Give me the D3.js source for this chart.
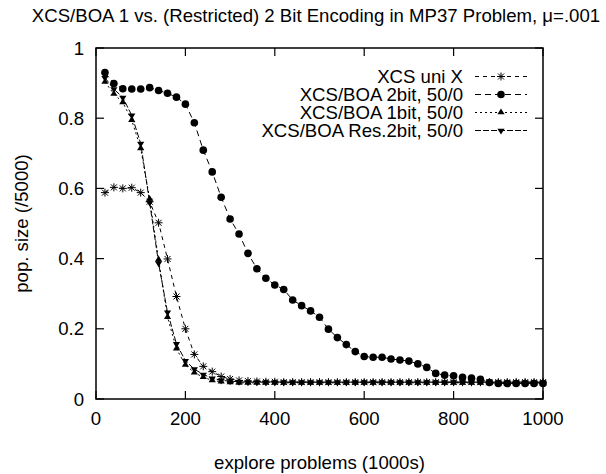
<!DOCTYPE html>
<html>

<head>
    <meta charset="UTF-8">
    <title>XCS/BOA 1 vs. (Restricted) 2 Bit Encoding in MP37 Problem</title>
    <style>
        body { margin: 0; background: #fff; }
        svg text { font-family: "Liberation Sans", Arial, sans-serif; font-size: 18.6px; fill: #000; }
    </style>
</head>

<body>
    <svg id="chart"></svg>
    <script src="https://d3js.org/d3.v7.min.js"></script>
    <script>
        // explore problems (1000s)
        const explore = [20, 40, 60, 80, 100, 120, 140, 160, 180, 200, 220, 240, 260, 280, 300, 320, 340, 360, 380, 400,
            420, 440, 460, 480, 500, 520, 540, 560, 580, 600, 620, 640, 660, 680, 700, 720, 740, 760, 780, 800,
            820, 840, 860, 880, 900, 920, 940, 960, 980, 1000];

        const xcsUniX = [0.588, 0.603, 0.600, 0.602, 0.588, 0.562, 0.502, 0.399, 0.292, 0.200, 0.127, 0.093, 0.078, 0.064, 0.057, 0.053, 0.051, 0.050, 0.049, 0.049,
            0.048, 0.048, 0.048, 0.048, 0.048, 0.048, 0.048, 0.048, 0.048, 0.048, 0.048, 0.048, 0.048, 0.048, 0.048, 0.048, 0.048, 0.048, 0.048, 0.048,
            0.048, 0.048, 0.048, 0.048, 0.048, 0.048, 0.048, 0.048, 0.048, 0.048];

        const boa2bit = [0.930, 0.899, 0.884, 0.883, 0.883, 0.887, 0.879, 0.871, 0.860, 0.840, 0.787, 0.709, 0.647, 0.575, 0.513, 0.470, 0.415, 0.371, 0.344, 0.325,
            0.312, 0.282, 0.266, 0.251, 0.233, 0.199, 0.175, 0.155, 0.135, 0.121, 0.119, 0.119, 0.114, 0.111, 0.108, 0.100, 0.090, 0.073, 0.068, 0.066,
            0.062, 0.060, 0.056, 0.047, 0.044, 0.044, 0.044, 0.044, 0.044, 0.044];

        const boa1bit = [0.903, 0.869, 0.845, 0.794, 0.714, 0.570, 0.397, 0.233, 0.143, 0.097, 0.075, 0.062, 0.053, 0.049, 0.047, 0.046, 0.046, 0.046, 0.046, 0.046,
            0.046, 0.046, 0.046, 0.046, 0.046, 0.046, 0.046, 0.046, 0.046, 0.046, 0.046, 0.046, 0.046, 0.046, 0.046, 0.046, 0.046, 0.046, 0.046, 0.046,
            0.046, 0.046, 0.046, 0.046, 0.046, 0.046, 0.046, 0.046, 0.046, 0.046];

        const boaRes2bit = [0.915, 0.883, 0.859, 0.808, 0.728, 0.560, 0.387, 0.247, 0.157, 0.109, 0.085, 0.070, 0.059, 0.053, 0.051, 0.049, 0.048, 0.048, 0.048, 0.048,
            0.048, 0.048, 0.048, 0.048, 0.048, 0.048, 0.048, 0.048, 0.048, 0.048, 0.048, 0.048, 0.048, 0.048, 0.048, 0.048, 0.048, 0.048, 0.048, 0.048,
            0.048, 0.048, 0.048, 0.048, 0.048, 0.048, 0.048, 0.048, 0.048, 0.048];

        const xTicks = [0, 200, 400, 600, 800, 1000];
        const yTicks = [0, 0.2, 0.4, 0.6, 0.8, 1];

        const series = [
            { name: "XCS uni X", values: xcsUniX, point: "star", dash: "4,4" },
            { name: "XCS/BOA 2bit, 50/0", values: boa2bit, point: "circle", dash: "6,4" },
            { name: "XCS/BOA 1bit, 50/0", values: boa1bit, point: "triUp", dash: "2,3" },
            { name: "XCS/BOA Res.2bit, 50/0", values: boaRes2bit, point: "triDown", dash: "6,2" }
        ];

        let width = 606,
            height = 474;
        let plotLeft = 96, plotRight = 543, plotTop = 48, plotBottom = 399;
        let tickLen = 8;

        let svg = d3.select("#chart")
            .attr("width", width)
            .attr("height", height);

        let x = d3.scaleLinear().domain([0, 1000]).range([plotLeft, plotRight]);
        let y = d3.scaleLinear().domain([0, 1]).range([plotBottom, plotTop]);

        // marker shapes, sized roughly like gnuplot's postscript points
        const v = 3.6;
        function drawPoint(g, kind, px, py) {
            if (kind == "circle") {
                g.append("circle").attr("cx", px).attr("cy", py).attr("r", 3.8).attr("fill", "#000");
            } else if (kind == "triUp") {
                g.append("path")
                    .attr("d", `M${px},${py - 1.12 * v}L${px - v},${py + 0.5 * v}L${px + v},${py + 0.5 * v}Z`)
                    .attr("fill", "#000");
            } else if (kind == "triDown") {
                g.append("path")
                    .attr("d", `M${px},${py + 1.12 * v}L${px - v},${py - 0.5 * v}L${px + v},${py - 0.5 * v}Z`)
                    .attr("fill", "#000");
            } else {
                let h = 4, d = 3;
                g.append("path")
                    .attr("d", `M${px - h},${py}H${px + h}M${px},${py - h}V${py + h}` +
                        `M${px - d},${py - d}L${px + d},${py + d}M${px - d},${py + d}L${px + d},${py - d}`)
                    .attr("stroke", "#000").attr("stroke-width", 1).attr("fill", "none");
            }
        }

        // frame with inward ticks on all four sides
        let axes = svg.append("g");
        axes.append("rect")
            .attr("x", plotLeft).attr("y", plotTop)
            .attr("width", plotRight - plotLeft).attr("height", plotBottom - plotTop)
            .attr("fill", "none").attr("stroke", "#000").attr("stroke-width", 1.5);

        xTicks.forEach(t => {
            axes.append("line").attr("x1", x(t)).attr("x2", x(t)).attr("y1", plotBottom).attr("y2", plotBottom - tickLen)
                .attr("stroke", "#000").attr("stroke-width", 1.2);
            axes.append("line").attr("x1", x(t)).attr("x2", x(t)).attr("y1", plotTop).attr("y2", plotTop + tickLen)
                .attr("stroke", "#000").attr("stroke-width", 1.2);
            axes.append("text").attr("x", x(t)).attr("y", plotBottom + 26)
                .attr("text-anchor", "middle").text(t);
        });

        yTicks.forEach(t => {
            axes.append("line").attr("x1", plotLeft).attr("x2", plotLeft + tickLen).attr("y1", y(t)).attr("y2", y(t))
                .attr("stroke", "#000").attr("stroke-width", 1.2);
            axes.append("line").attr("x1", plotRight).attr("x2", plotRight - tickLen).attr("y1", y(t)).attr("y2", y(t))
                .attr("stroke", "#000").attr("stroke-width", 1.2);
            axes.append("text").attr("x", plotLeft - 12).attr("y", y(t) + 6.6)
                .attr("text-anchor", "end").text(t);
        });

        svg.append("text").attr("x", 316).attr("y", 22)
            .attr("text-anchor", "middle")
            .text("XCS/BOA 1 vs. (Restricted) 2 Bit Encoding in MP37 Problem, \u03bc=.001");

        svg.append("text").attr("x", (plotLeft + plotRight) / 2).attr("y", 469)
            .attr("text-anchor", "middle").text("explore problems (1000s)");

        svg.append("text")
            .attr("transform", `translate(28,${(plotTop + plotBottom) / 2}) rotate(-90)`)
            .attr("text-anchor", "middle").text("pop. size (/5000)");

        // data lines and points
        const line = d3.line().x(d => x(d[0])).y(d => y(d[1]));

        series.forEach(s => {
            let pts = explore.map((e, i) => [e, s.values[i]]);
            let g = svg.append("g");
            g.append("path")
                .datum(pts)
                .attr("d", line)
                .attr("fill", "none")
                .attr("stroke", "#000")
                .attr("stroke-width", 1)
                .attr("stroke-dasharray", s.dash);
            pts.forEach(p => drawPoint(g, s.point, x(p[0]), y(p[1])));
        });

        // legend, top right inside the frame; rows sit tight as in the original
        let legend = svg.append("g");
        series.forEach((s, i) => {
            let ly = 76.5 + i * 18;
            legend.append("text").attr("x", 463).attr("y", ly + 6.6)
                .attr("text-anchor", "end").text(s.name);
            legend.append("line").attr("x1", 475).attr("x2", 527).attr("y1", ly).attr("y2", ly)
                .attr("stroke", "#000").attr("stroke-width", 1).attr("stroke-dasharray", s.dash);
            drawPoint(legend, s.point, 501, ly);
        });
    </script>
</body>

</html>
